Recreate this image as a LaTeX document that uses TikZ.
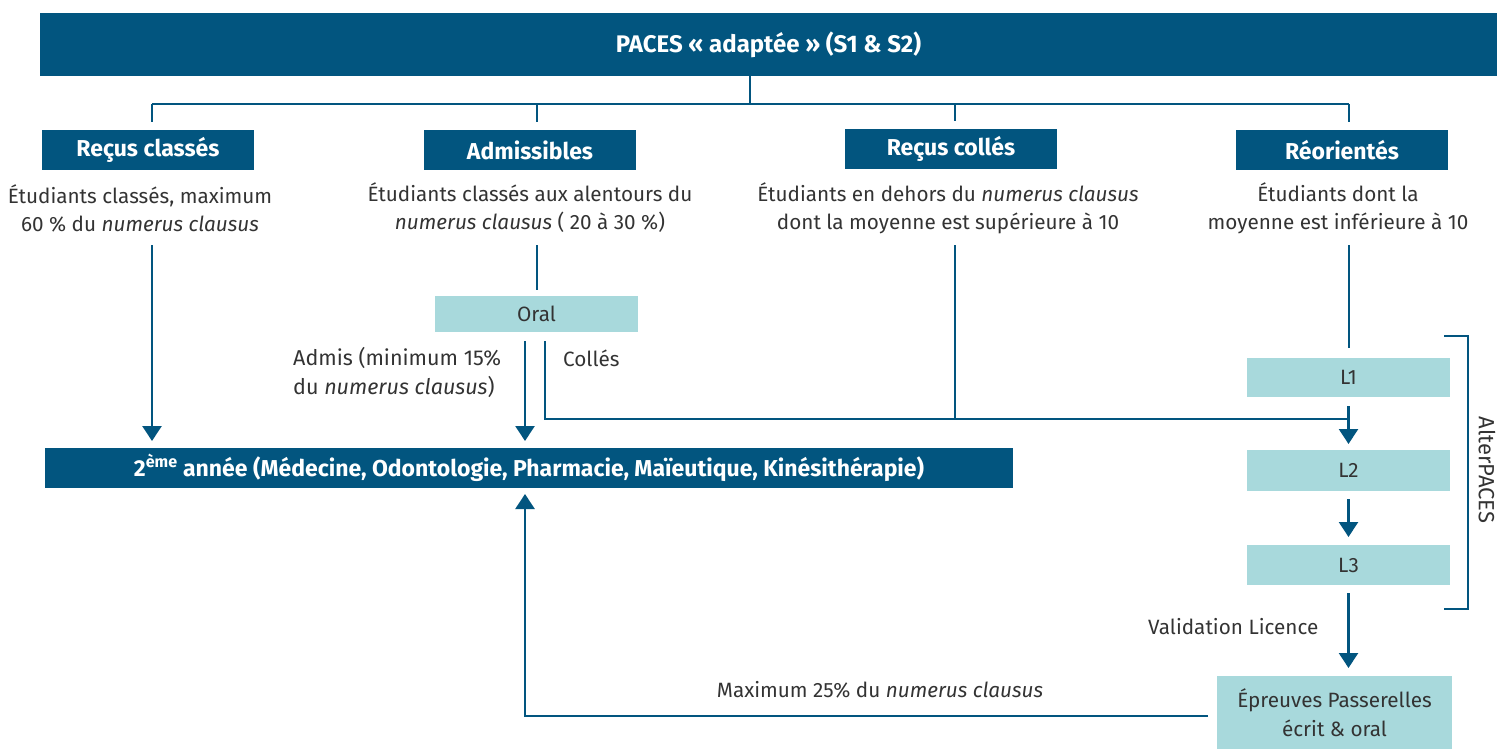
\documentclass[tikz,border=0pt]{standalone}
\usepackage{fontspec}
\setmainfont{Fira Sans}
\usetikzlibrary{arrows.meta}
\definecolor{pblue}{HTML}{02557F}
\definecolor{pteal}{HTML}{A8D9DC}
\definecolor{ptxt}{HTML}{333333}
\begin{document}
\begin{tikzpicture}[x=1pt,y=-1pt,
  dbox/.style={fill=pblue,text=white,font=\fontsize{23}{27}\selectfont\bfseries,inner sep=0pt,outer sep=0pt},
  lbox/.style={fill=pteal,text=ptxt,font=\fontsize{20.7}{29}\selectfont,inner sep=0pt,outer sep=0pt,align=center},
  desc/.style={text=ptxt,font=\fontsize{20.7}{28}\selectfont,inner sep=0pt,align=center},
  lab/.style={text=ptxt,font=\fontsize{20.7}{29}\selectfont,inner sep=0pt,align=left},
  tconn/.style={draw=pblue,line width=2.2pt},
  conn/.style={draw=pblue,line width=2.5pt},
  arr/.style={conn,-{Triangle[width=19pt,length=15pt]}}]
\useasboundingbox (0,0) rectangle (1497,749);

% boxes
\node[dbox,minimum width=1457pt,minimum height=63pt,font=\fontsize{24}{28}\selectfont\bfseries] (top) at (768.5,44.5) {PACES « adaptée » (S1 \& S2)};
\node[dbox,minimum width=212pt,minimum height=40pt] (rcl) at (148,150) {Reçus classés};
\node[dbox,minimum width=212pt,minimum height=40pt] (adm) at (530,150) {Admissibles};
\node[dbox,minimum width=212pt,minimum height=40pt] (rco) at (951,149) {Reçus collés};
\node[dbox,minimum width=212pt,minimum height=40pt] (reo) at (1342,150) {Réorientés};

\node[desc] (rclD) at (140,208) {Étudiants classés, maximum\\60 \% du \textit{numerus clausus}};
\node[desc] (admD) at (530,208) {Étudiants classés aux alentours du\\\textit{numerus clausus} ( 20 à 30 \%)};
\node[desc] (rcoD) at (948,208) {Étudiants en dehors du \textit{numerus clausus}\\dont la moyenne est supérieure à 10};
\node[desc] (reoD) at (1338,208) {Étudiants dont la\\moyenne est inférieure à 10};

\node[lbox,minimum width=203pt,minimum height=36pt] (oral) at (536.5,314) {Oral};
\node[lbox,minimum width=203pt,minimum height=39pt] (L1) at (1348.5,377.5) {L1};
\node[lbox,minimum width=203pt,minimum height=41pt] (L2) at (1348.5,470.5) {L2};
\node[lbox,minimum width=203pt,minimum height=40pt] (L3) at (1348.5,565) {L3};
\node[lbox,minimum width=235pt,minimum height=73pt] (ep) at (1334.5,712.5) {Épreuves Passerelles\\écrit \& oral};

\node[dbox,minimum width=968pt,minimum height=40pt] (sec) at (529,468) {2\textsuperscript{ème} année (Médecine, Odontologie, Pharmacie, Maïeutique, Kinésithérapie)};

% labels
\node[lab,anchor=west,font=\fontsize{21.5}{29}\selectfont] (admis) at (293,372) {Admis (minimum 15\%\\du \textit{numerus clausus})};
\node[lab,anchor=west] (colles) at (563,358) {Collés};
\node[lab,anchor=west] (valid) at (1148,627) {Validation Licence};
\node[lab] (maxi) at (880,690) {Maximum 25\% du \textit{numerus clausus}};
\node[lab,rotate=-90,font=\fontsize{22}{26}\selectfont] (alt) at (1487,470) {AlterPACES};

% coordinates
\coordinate (bus) at (750,104);
\coordinate (cA) at (152,104);
\coordinate (cB) at (537,104);
\coordinate (cC) at (955,104);
\coordinate (cD) at (1349,104);
\coordinate (sA) at (152,245);
\coordinate (sB) at (537,245);
\coordinate (sC) at (955,245);
\coordinate (sD) at (1349,245);
\coordinate (oL) at (525,341);
\coordinate (oR) at (545,341);
\coordinate (j) at (1349,419);
\coordinate (fb) at (1208,716);

% top tree
\draw[tconn] (bus |- top.south) -- (bus);
\draw[tconn] (cA) -- (cD);
\draw[tconn,shorten >=8pt] (cA) -- (cA |- rcl.north);
\draw[tconn,shorten >=8pt] (cB) -- (cB |- adm.north);
\draw[tconn,shorten >=8pt] (cC) -- (cC |- rco.north);
\draw[tconn,shorten >=8pt] (cD) -- (cD |- reo.north);

% flows
\draw[arr,shorten >=7pt] (sA) -- (sA |- sec.north);
\draw[conn,shorten >=6pt] (sB) -- (sB |- oral.north);
\draw[arr,shorten >=7pt] (oL) -- (oL |- sec.north);
\draw[conn] (oR) |- (j);
\draw[conn] (sC) -- (sC |- j);
\draw[conn,shorten >=10pt] (sD) -- (sD |- L1.north);
\draw[arr,shorten <=9pt,shorten >=6pt] (L1.south) -- (L2.north);
\draw[arr,shorten <=8pt,shorten >=8pt] (L2.south) -- (L3.north);
\draw[arr,shorten <=8pt,shorten >=8pt] (L3.south) -- (L3.south |- ep.north);
\draw[arr,shorten >=6pt] (fb) -| (oL |- sec.south);

% bracket
\draw[conn] (1444,336) -- (1468,336) -- (1468,609) -- (1444,609);
\end{tikzpicture}
\end{document}
